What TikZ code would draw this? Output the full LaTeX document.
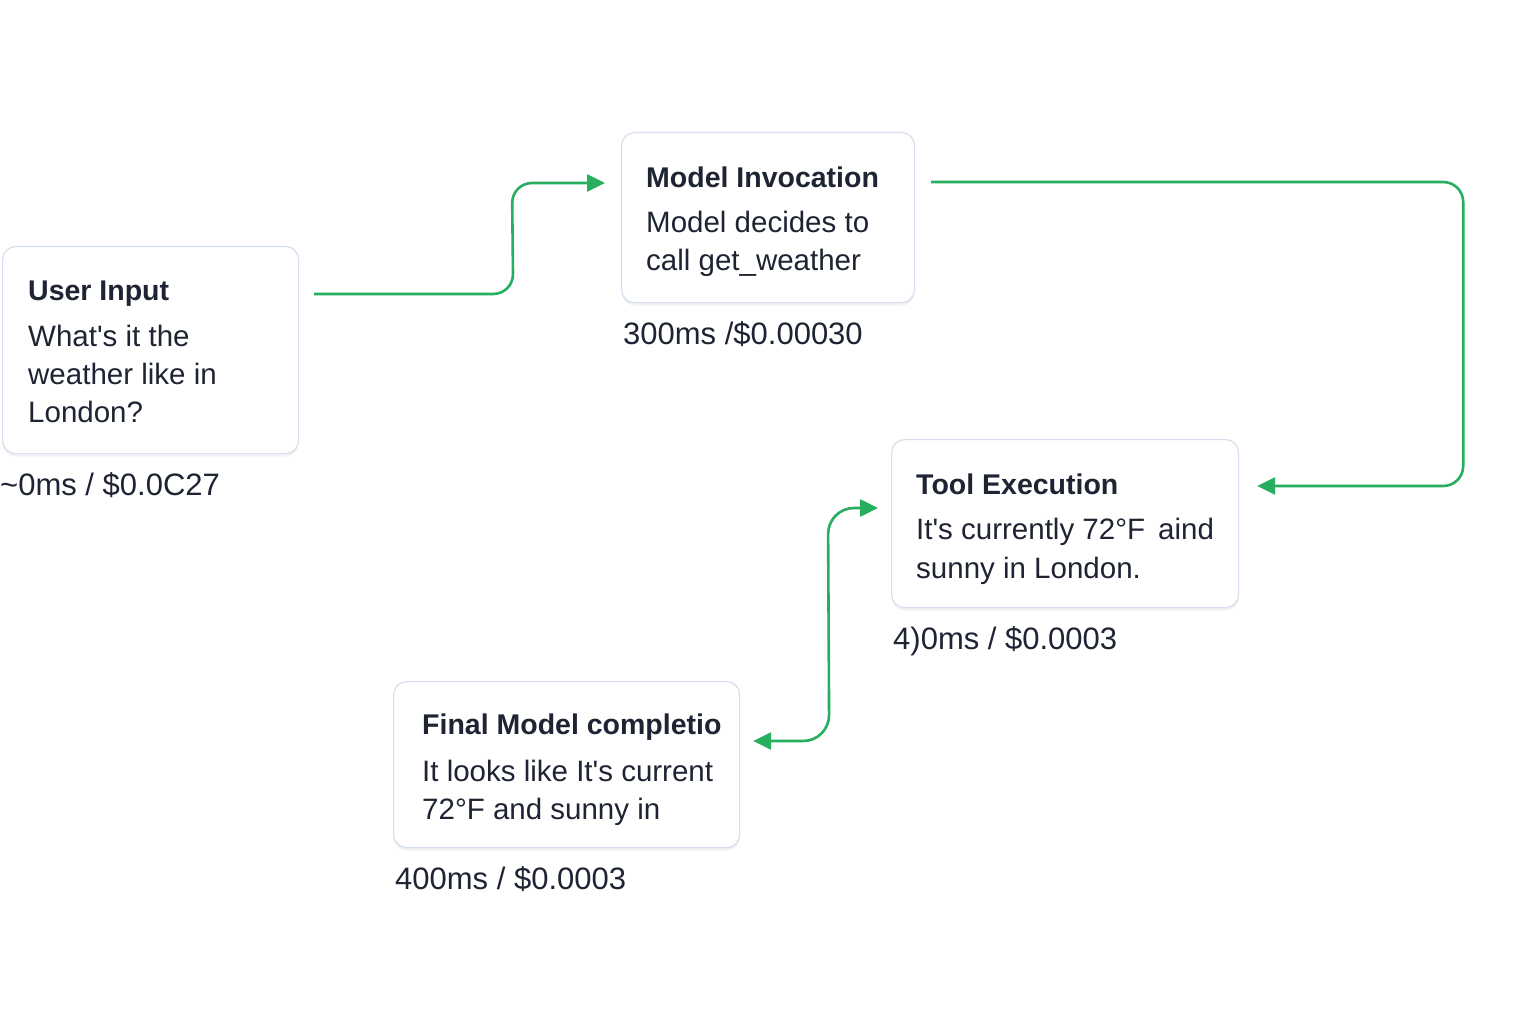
\documentclass[tikz,border=0pt]{standalone}
\usepackage{fontspec}
\setmainfont{Liberation Sans}
\usetikzlibrary{arrows.meta,shadows,calc}
\definecolor{ink}{HTML}{1E2433}
\definecolor{edge}{HTML}{D6DFF0}
\definecolor{flow}{HTML}{27AE5F}
\newcommand{\sq}{\textquotesingle}
\tikzset{
  card/.style={draw=edge, line width=1.2pt, fill=white, rounded corners=13pt, anchor=north west, inner sep=0pt,
    drop shadow={shadow xshift=0pt, shadow yshift=-3pt, opacity=0.05, fill=black}},
  ttl/.style={anchor=base west, inner sep=0pt, text=ink, font=\fontsize{28.5}{34}\selectfont\bfseries},
  bodytxt/.style={anchor=base west, inner sep=0pt, text=ink, font=\fontsize{29.5}{36}\selectfont},
  cost/.style={anchor=base west, inner sep=0pt, text=ink, font=\fontsize{31}{36}\selectfont},
  link/.style={draw=flow, line width=2.6pt, rounded corners=20pt},
  tip/.style={-{Triangle[length=18pt,width=17pt]}},
  tips/.style={{Triangle[length=18pt,width=17pt]}-{Triangle[length=18pt,width=17pt]}}
}
\begin{document}
\begin{tikzpicture}[x=1pt,y=-1pt]
\useasboundingbox[fill=white] (0,0) rectangle (1536,1024);

% User Input
\node[card, minimum width=296pt, minimum height=207pt] (ui) at (2,246) {};
\node[ttl] (uit) at (28,300) {User Input};
\node[bodytxt] (uib1) at (28,346) {What\sq s it the};
\node[bodytxt] (uib2) at (28,384) {weather like in};
\node[bodytxt] (uib3) at (28,422) {London?};
\node[cost] (uic) at (0,495) {\char"007E 0ms / \$0.0C27};

% Model Invocation
\node[card, minimum width=293pt, minimum height=170pt] (mi) at (621,132) {};
\node[ttl] (mit) at (646,188) {Model Invocation};
\node[bodytxt] (mib1) at (646,233) {Model decides to};
\node[bodytxt] (mib2) at (646,271) {call get\_weather};
\node[cost] (mic) at (623,344) {300ms /\$0.00030};

% Tool Execution
\node[card, minimum width=347pt, minimum height=168pt] (te) at (891,439) {};
\node[ttl] (tet) at (916,494) {Tool Execution};
\node[bodytxt] (teb1) at (916,539) {It\sq s currently 72°F\, aind};
\node[bodytxt] (teb2) at (916,578) {sunny in London.};
\node[cost] (tec) at (893,649) {4)0ms / \$0.0003};

% Final Model completion
\node[card, minimum width=346pt, minimum height=166pt] (fm) at (393,681) {};
\node[ttl] (fmt) at (422,734) {Final Model completio};
\node[bodytxt] (fmb1) at (422,781) {It looks like It\sq s current};
\node[bodytxt] (fmb2) at (422,819) {72°F and sunny in};
\node[cost] (fmc) at (395,889) {400ms / \$0.0003};

% connectors
\coordinate (a1s) at ($(ui.north east)+(15,48)$);
\coordinate (a1e) at ($(mi.north west)+(-16,51)$);
\draw[link, tip] (a1s) -- ($(ui.north east)+(214,48)$) -- ($(mi.north west)+(-109,51)$) -- (a1e);

\coordinate (a2s) at ($(mi.north east)+(16,50)$);
\coordinate (a2e) at ($(te.north east)+(18,47)$);
\draw[link, tip] (a2s) -- ($(mi.north east)+(548,50)$) -- ($(te.north east)+(224,47)$) -- (a2e);

\coordinate (a3s) at ($(te.north west)+(-13,69)$);
\coordinate (a3e) at ($(fm.north east)+(13,60)$);
\draw[link, tips, rounded corners=26pt] (a3e) -- ($(fm.north east)+(89,60)$) -- ($(te.north west)+(-63,69)$) -- (a3s);
\end{tikzpicture}
\end{document}
